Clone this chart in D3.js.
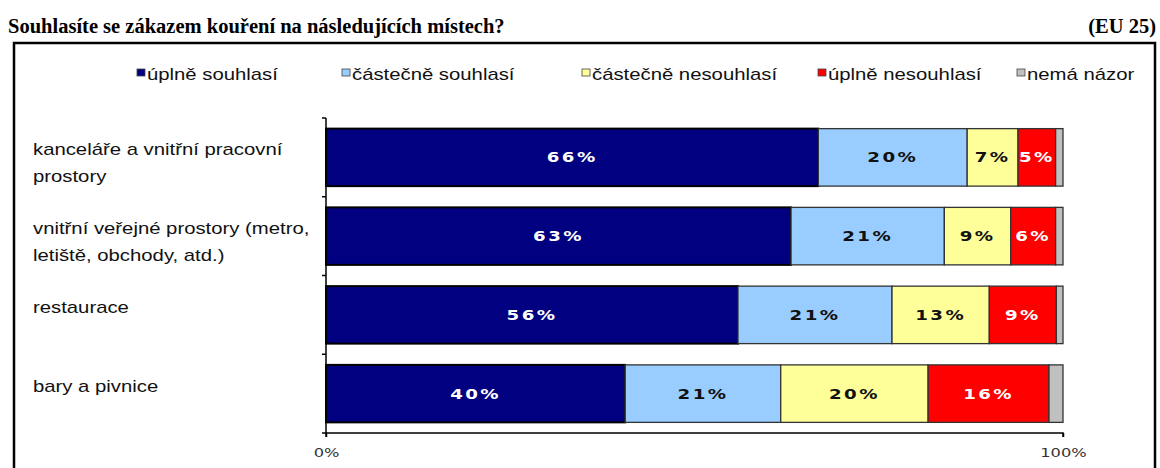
<!DOCTYPE html>
<html>
<head>
<meta charset="utf-8">
<script src="https://cdn.jsdelivr.net/npm/d3@7"></script>
<style>
    body { margin: 0; background: #fff; }
    svg { display: block; }
</style>
</head>
<body>
<svg id="chart" width="1160" height="468"></svg>
<script>
// categories (one label line per entry)
const categories = [
    ['kanceláře a vnitřní pracovní', 'prostory'],
    ['vnitřní veřejné prostory (metro,', 'letiště, obchody, atd.)'],
    ['restaurace'],
    ['bary a pivnice']
];
const seriesNames = ['úplně souhlasí', 'částečně souhlasí', 'částečně nesouhlasí', 'úplně nesouhlasí', 'nemá názor'];

// values (percent), and the labels printed on them
const fullyAgree    = [66.8, 63.1, 55.9, 40.6];
const partlyAgree   = [20.2, 20.8, 20.9, 21.1];
const partlyDisagree = [6.9, 9.0, 13.2, 20.0];
const fullyDisagree = [5.1, 6.1, 9.1, 16.4];
const noOpinion     = [1.0, 1.0, 0.9, 1.9];
const printedLabels = [
    ['66%', '20%', '7%', '5%', ''],
    ['63%', '21%', '9%', '6%', ''],
    ['56%', '21%', '13%', '9%', ''],
    ['40%', '21%', '20%', '16%', '']
];
const xTicks = [0, 100];

const colors = ['#000080', '#99ccff', '#ffff99', '#ff0000', '#c0c0c0'];
const labelColors = ['#fff', '#111', '#111', '#fff', '#111'];

const MARGIN = {top: 118, left: 326, right: 97, bottom: 35};
const WIDTH = 1160, HEIGHT = 468;
const STRETCH = 1.27; // the source text is widened horizontally
const legendX = [137, 342, 582, 818, 1017];

const svg = d3.select('#chart');

// title
svg.append('text')
    .attr('x', 8).attr('y', 33)
    .attr('font-family', 'Liberation Serif')
    .attr('font-weight', 'bold')
    .attr('font-size', 20.5)
    .text('Souhlasíte se zákazem kouření na následujících místech?');
svg.append('text')
    .attr('x', 1156).attr('y', 33)
    .attr('text-anchor', 'end')
    .attr('font-family', 'Liberation Serif')
    .attr('font-weight', 'bold')
    .attr('font-size', 20.5)
    .text('(EU 25)');

// frame
svg.append('rect')
    .attr('x', 14).attr('y', 43)
    .attr('width', 1141).attr('height', 500)
    .attr('fill', 'none')
    .attr('stroke', '#000')
    .attr('stroke-width', 2.5);

// stack the series
const rows = categories.map((c, i) => ({
    i: i,
    values: [fullyAgree[i], partlyAgree[i], partlyDisagree[i], fullyDisagree[i], noOpinion[i]]
}));
rows.forEach(r => {
    let acc = 0;
    r.segs = r.values.map((v, k) => {
        const s = {row: r.i, k: k, x0: acc, x1: acc + v, label: printedLabels[r.i][k]};
        acc += v;
        return s;
    });
});

const xScale = d3.scaleLinear()
    .domain([0, 100])
    .range([MARGIN.left, WIDTH - MARGIN.right]);

const yScale = d3.scaleBand()
    .domain(d3.range(categories.length))
    .range([MARGIN.top, HEIGHT - MARGIN.bottom])
    .paddingInner(0.27)
    .paddingOuter(0.135);

const axisY = HEIGHT - MARGIN.bottom;

// bars
const barG = svg.append('g');
barG.selectAll('g')
    .data(rows)
    .join('g')
    .selectAll('rect')
    .data(d => d.segs)
    .join('rect')
    .attr('x', d => xScale(d.x0))
    .attr('y', d => yScale(d.row))
    .attr('width', d => xScale(d.x1) - xScale(d.x0))
    .attr('height', yScale.bandwidth())
    .attr('fill', d => colors[d.k])
    .attr('stroke', d => d.k === 0 ? '#000' : '#333')
    .attr('stroke-width', d => d.k === 0 ? 2 : 1.3);

// bar labels
barG.selectAll('text.val')
    .data(rows.flatMap(r => r.segs).filter(d => d.label))
    .join('text')
    .attr('class', 'val')
    .attr('transform', d => `translate(${(xScale(d.x0) + xScale(d.x1)) / 2}, ${yScale(d.row) + yScale.bandwidth() / 2 + 5}) scale(1.35, 1)`)
    .attr('text-anchor', 'middle')
    .attr('font-family', 'DejaVu Sans')
    .attr('font-weight', 'bold')
    .attr('font-size', 13.5)
    .attr('letter-spacing', 1.8)
    .attr('fill', d => labelColors[d.k])
    .text(d => d.label);

// y axis: line with ticks at band boundaries
const yAxisG = svg.append('g');
yAxisG.append('line')
    .attr('x1', xScale(0)).attr('x2', xScale(0))
    .attr('y1', MARGIN.top).attr('y2', axisY + 4)
    .attr('stroke', '#000').attr('stroke-width', 1.5);
yAxisG.selectAll('line.tick')
    .data(d3.range(categories.length + 1))
    .join('line')
    .attr('class', 'tick')
    .attr('x1', xScale(0) - 4).attr('x2', xScale(0))
    .attr('y1', d => MARGIN.top + d * yScale.step())
    .attr('y2', d => MARGIN.top + d * yScale.step())
    .attr('stroke', '#000').attr('stroke-width', 1.5);

// category labels
yAxisG.selectAll('g.cat')
    .data(categories)
    .join('g')
    .attr('class', 'cat')
    .each(function(lines, i) {
        const g = d3.select(this);
        lines.forEach((line, j) => {
            g.append('text')
                .attr('transform', `translate(33, ${yScale(i) + yScale.bandwidth() / 2 - 2 + j * 27}) scale(${STRETCH}, 1)`)
                .attr('font-family', 'Liberation Sans')
                .attr('font-size', 16)
                .attr('fill', '#111')
                .text(line);
        });
    });

// x axis
const xAxis = d3.axisBottom(xScale)
    .tickValues(xTicks)
    .tickSize(4)
    .tickFormat(d => d + '%');
const xAxisG = svg.append('g')
    .attr('transform', `translate(0, ${axisY})`)
    .call(xAxis);
xAxisG.select('.domain').attr('stroke', '#000').attr('stroke-width', 1.5)
    .attr('d', `M${xScale(0)},0H${xScale(100)}V4`);
xAxisG.selectAll('.tick line').attr('stroke', '#000').attr('stroke-width', 1.5);
xAxisG.selectAll('.tick text')
    .attr('y', 0).attr('dy', 0)
    .attr('transform', 'translate(0, 24) scale(1.3, 1)')
    .attr('font-family', 'DejaVu Sans')
    .attr('font-size', 12.5)
    .attr('fill', '#333');

// legend
const legend = svg.append('g')
    .selectAll('g')
    .data(seriesNames)
    .join('g')
    .attr('transform', (d, i) => `translate(${legendX[i]}, 0)`);
legend.append('rect')
    .attr('x', 0).attr('y', 69)
    .attr('width', 8).attr('height', 7)
    .attr('fill', (d, i) => colors[i])
    .attr('stroke', '#444').attr('stroke-width', 0.8);
legend.append('text')
    .attr('transform', `translate(10, 80) scale(${STRETCH}, 1)`)
    .attr('font-family', 'Liberation Sans')
    .attr('font-size', 16)
    .attr('fill', '#111')
    .text(d => d);
</script>
</body>
</html>
